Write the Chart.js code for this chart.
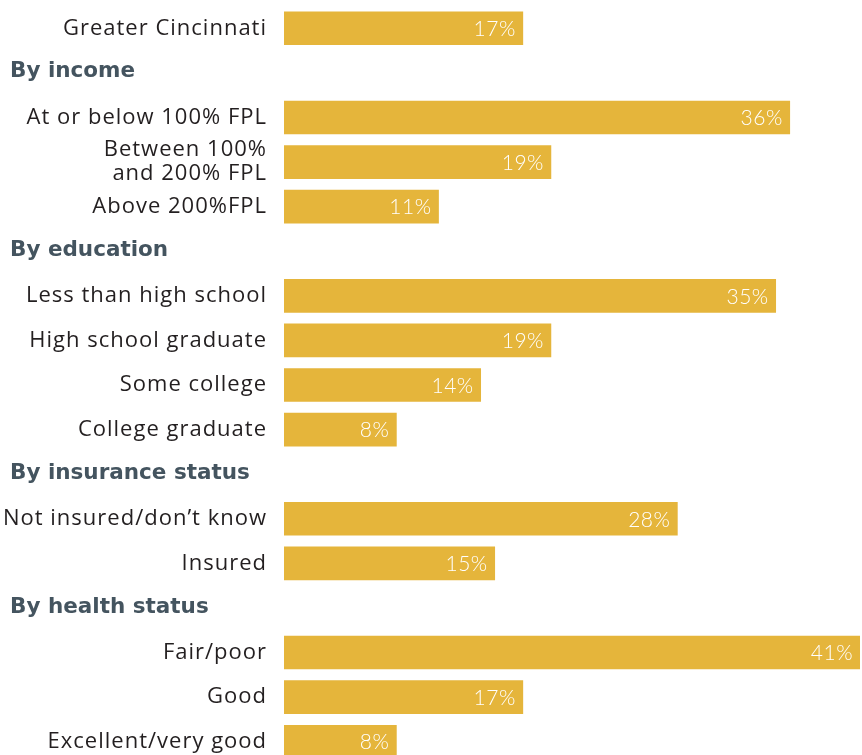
<!DOCTYPE html>
<html lang="en">
<head>
  <meta charset="UTF-8">
  <title>Share by group</title>
  <script src="https://cdn.jsdelivr.net/npm/chart.js"></script>
  <style>
    html, body { margin: 0; padding: 0; background: #fff; overflow: hidden; }
    #wrap { width: 862px; height: 755px; overflow: hidden; }
  </style>
</head>
<body>
  <div id="wrap">
    <canvas id="groupChart" width="862" height="770"></canvas>
  </div>

  <script>
    // rows, top to bottom; headers have no value
    const rowLabels = [
      'Greater Cincinnati',
      'By income',
      'At or below 100% FPL',
      ['Between 100%', 'and 200% FPL'],
      'Above 200%FPL',
      'By education',
      'Less than high school',
      'High school graduate',
      'Some college',
      'College graduate',
      'By insurance status',
      'Not insured/don\u2019t know',
      'Insured',
      'By health status',
      'Fair/poor',
      'Good',
      'Excellent/very good'
    ];
    const headerRows = [false, true, false, false, false, true, false, false, false, false, true, false, false, true, false, false, false];
    const percentValues = [17, null, 36, 19, 11, null, 35, 19, 14, 8, null, 28, 15, null, 41, 17, 8];

    const barColor = '#e5b53b';

    // draws row labels, group headers and value labels
    const labelPlugin = {
      id: 'rowLabels',
      afterDatasetsDraw(chart) {
        const ctx = chart.ctx;
        const yScale = chart.scales.y;
        const meta = chart.getDatasetMeta(0);
        ctx.save();
        ctx.textBaseline = 'middle';
        rowLabels.forEach((label, i) => {
          const y = yScale.getPixelForValue(i);
          if (headerRows[i]) {
            ctx.font = 'bold 21.5px "DejaVu Sans", sans-serif';
            ctx.letterSpacing = '0px';
            ctx.fillStyle = '#44545f';
            ctx.textAlign = 'left';
            ctx.fillText(label, 10, y - 1);
          } else {
            ctx.font = '22px "Open Sans", sans-serif';
            ctx.letterSpacing = '1px';
            ctx.fillStyle = '#231f20';
            ctx.textAlign = 'right';
            const lines = Array.isArray(label) ? label : [label];
            const lh = 24;
            lines.forEach((line, j) => {
              ctx.fillText(line, 267, y + (j - (lines.length - 1) / 2) * lh);
            });
          }
          const v = percentValues[i];
          if (v !== null) {
            const bar = meta.data[i];
            ctx.font = '300 21px Lato, "Open Sans", sans-serif';
            ctx.letterSpacing = '0.5px';
            ctx.fillStyle = '#ffffff';
            ctx.textAlign = 'right';
            ctx.fillText(v + '%', bar.x - 7, y + 1);
          }
        });
        ctx.restore();
      }
    };

    const ctx = document.getElementById('groupChart').getContext('2d');
    new Chart(ctx, {
      type: 'bar',
      data: {
        labels: rowLabels,
        datasets: [{
          data: percentValues,
          backgroundColor: barColor,
          barThickness: 33,
          borderWidth: 0
        }]
      },
      options: {
        indexAxis: 'y',
        responsive: false,
        animation: false,
        layout: { padding: { left: 284, right: 2, top: 6, bottom: 6 } },
        plugins: {
          legend: { display: false },
          tooltip: { enabled: false }
        },
        scales: {
          x: { display: false, min: 0, max: 41, grid: { display: false } },
          y: { display: false, offset: true, grid: { display: false } }
        }
      },
      plugins: [labelPlugin]
    });
  </script>
</body>
</html>
